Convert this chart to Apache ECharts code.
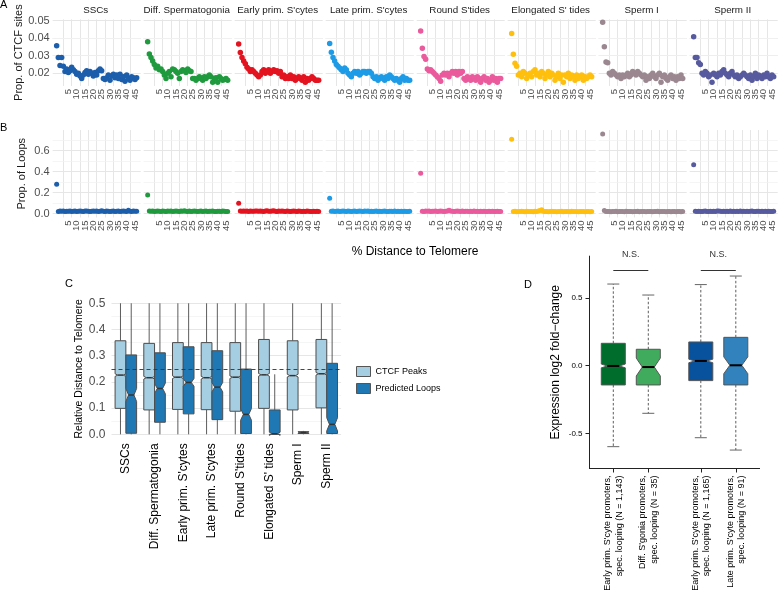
<!DOCTYPE html>
<html>
<head>
<meta charset="utf-8">
<script src="https://cdn.jsdelivr.net/npm/echarts@6/dist/echarts.min.js"></script>
<style>
  html, body { margin: 0; padding: 0; background: #fff; }
  #chart { width: 778px; height: 597px; }
</style>
</head>
<body>
<div id="chart"></div>
<script>
const FONT = "'Liberation Sans', Arial, Helvetica, sans-serif";

// ---- panels A & B: one facet per cell stage ----
const facetNames = ['SSCs', 'Diff. Spermatogonia', "Early prim. S'cytes", "Late prim. S'cytes",
  "Round S'tides", "Elongated S' tides", 'Sperm I', 'Sperm II'];
const facetColors = ['#1c5eab', '#1f9a3e', '#e3131f', '#1d9be6', '#ea5a9c', '#ffbf0d', '#9b8790', '#575a9e'];

const distBins = [1, 2, 3, 4, 5, 6, 7, 8, 9, 10, 11, 12, 13, 14, 15, 16, 17, 18, 19, 20,
  21, 22, 23, 24, 25, 26, 27, 28, 29, 30, 31, 32, 33, 34, 35, 36, 37, 38, 39, 40,
  41, 42, 43, 44, 45, 46, 47, 48, 49];
const distTicks = [5, 10, 15, 20, 25, 30, 35, 40, 45];
const distLabelSlots = [0, 5, 10, 15, 20, 25, 30, 35, 40, 45, 50]; // first/last are hidden spacers
const ctcfTicks = [0.02, 0.03, 0.04, 0.05];
const ctcfMinor = [0.015, 0.025, 0.035, 0.045];
const loopTicks = [0, 0.2, 0.4, 0.6];
const loopMinor = [0.1, 0.3, 0.5, 0.7];

const ctcfSSC = [0.0357, 0.0290, 0.0245, 0.0290, 0.0240, 0.0210, 0.0225, 0.0205, 0.0215, 0.0235,
  0.0220, 0.0210, 0.0195, 0.0200, 0.0185, 0.0170, 0.0190, 0.0205, 0.0215, 0.0195,
  0.0210, 0.0200, 0.0185, 0.0205, 0.0190, 0.0215, 0.0225, 0.0215, 0.0170, 0.0165,
  0.0175, 0.0190, 0.0160, 0.0185, 0.0195, 0.0175, 0.0190, 0.0170, 0.0195, 0.0165,
  0.0180, 0.0155, 0.0190, 0.0170, 0.0160, 0.0180, 0.0175, 0.0165, 0.0175];
const ctcfDiff = [0.0380, 0.0310, 0.0290, 0.0270, 0.0250, 0.0230, 0.0240, 0.0220, 0.0225, 0.0210,
  0.0190, 0.0170, 0.0200, 0.0210, 0.0180, 0.0225, 0.0220, 0.0210, 0.0200, 0.0170,
  0.0210, 0.0220, 0.0215, 0.0205, 0.0225, 0.0215, 0.0210, 0.0170, 0.0170, 0.0160,
  0.0170, 0.0180, 0.0170, 0.0160, 0.0180, 0.0170, 0.0180, 0.0190, 0.0180, 0.0150,
  0.0170, 0.0175, 0.0150, 0.0180, 0.0170, 0.0160, 0.0165, 0.0170, 0.0160];
const ctcfEarly = [0.0367, 0.0318, 0.0290, 0.0270, 0.0255, 0.0235, 0.0225, 0.0210, 0.0220, 0.0210,
  0.0200, 0.0190, 0.0180, 0.0190, 0.0210, 0.0220, 0.0200, 0.0210, 0.0220, 0.0200,
  0.0210, 0.0220, 0.0210, 0.0215, 0.0200, 0.0210, 0.0180, 0.0190, 0.0170, 0.0180,
  0.0170, 0.0190, 0.0170, 0.0180, 0.0160, 0.0170, 0.0180, 0.0170, 0.0160, 0.0180,
  0.0150, 0.0170, 0.0160, 0.0170, 0.0180, 0.0170, 0.0160, 0.0160, 0.0160];
const ctcfLate = [0.0370, 0.0320, 0.0290, 0.0270, 0.0250, 0.0240, 0.0230, 0.0220, 0.0210, 0.0230,
  0.0220, 0.0200, 0.0190, 0.0180, 0.0200, 0.0210, 0.0200, 0.0210, 0.0190, 0.0200,
  0.0210, 0.0210, 0.0200, 0.0210, 0.0210, 0.0200, 0.0180, 0.0170, 0.0180, 0.0160,
  0.0170, 0.0180, 0.0170, 0.0160, 0.0180, 0.0170, 0.0190, 0.0180, 0.0170, 0.0160,
  0.0170, 0.0160, 0.0150, 0.0170, 0.0180, 0.0160, 0.0170, 0.0160, 0.0160];
const ctcfRound = [0.0440, 0.0342, 0.0295, 0.0280, 0.0225, 0.0215, 0.0220, 0.0210, 0.0200, 0.0190,
  0.0180, 0.0170, 0.0155, 0.0190, 0.0200, 0.0190, 0.0200, 0.0180, 0.0200, 0.0210,
  0.0200, 0.0210, 0.0190, 0.0210, 0.0200, 0.0210, 0.0170, 0.0160, 0.0180, 0.0170,
  0.0160, 0.0180, 0.0170, 0.0160, 0.0180, 0.0170, 0.0150, 0.0170, 0.0180, 0.0160,
  0.0170, 0.0150, 0.0160, 0.0180, 0.0160, 0.0170, 0.0150, 0.0170, 0.0170];
const ctcfElong = [0.0427, 0.0308, 0.0257, 0.0240, 0.0190, 0.0200, 0.0180, 0.0210, 0.0200, 0.0170,
  0.0190, 0.0200, 0.0180, 0.0210, 0.0220, 0.0190, 0.0200, 0.0180, 0.0210, 0.0200,
  0.0170, 0.0190, 0.0210, 0.0180, 0.0200, 0.0190, 0.0160, 0.0180, 0.0200, 0.0170,
  0.0190, 0.0150, 0.0190, 0.0180, 0.0200, 0.0170, 0.0190, 0.0180, 0.0160, 0.0190,
  0.0170, 0.0180, 0.0190, 0.0160, 0.0180, 0.0170, 0.0180, 0.0190, 0.0180];
const ctcfSpermI = [0.0490, 0.0351, 0.0265, 0.0260, 0.0200, 0.0190, 0.0210, 0.0200, 0.0190, 0.0180,
  0.0190, 0.0170, 0.0190, 0.0180, 0.0190, 0.0200, 0.0180, 0.0190, 0.0210, 0.0200,
  0.0190, 0.0210, 0.0200, 0.0190, 0.0180, 0.0190, 0.0160, 0.0180, 0.0170, 0.0190,
  0.0200, 0.0180, 0.0170, 0.0190, 0.0200, 0.0150, 0.0180, 0.0190, 0.0170, 0.0160,
  0.0180, 0.0190, 0.0170, 0.0180, 0.0160, 0.0180, 0.0170, 0.0190, 0.0170];
const ctcfSpermII = [0.0408, 0.0290, 0.0290, 0.0260, 0.0250, 0.0200, 0.0190, 0.0210, 0.0200, 0.0180,
  0.0190, 0.0150, 0.0200, 0.0190, 0.0180, 0.0200, 0.0190, 0.0210, 0.0220, 0.0200,
  0.0190, 0.0180, 0.0200, 0.0210, 0.0190, 0.0180, 0.0190, 0.0170, 0.0180, 0.0190,
  0.0200, 0.0190, 0.0180, 0.0170, 0.0190, 0.0160, 0.0180, 0.0200, 0.0170, 0.0190,
  0.0180, 0.0170, 0.0190, 0.0180, 0.0200, 0.0180, 0.0170, 0.0190, 0.0180];

const loopSSC = [0.279, 0.021, 0.024, 0.022, 0.025, 0.020, 0.023, 0.022, 0.026, 0.021,
  0.023, 0.024, 0.020, 0.022, 0.025, 0.023, 0.021, 0.024, 0.026, 0.022,
  0.020, 0.023, 0.025, 0.022, 0.024, 0.021, 0.023, 0.027, 0.022, 0.020,
  0.024, 0.022, 0.021, 0.023, 0.025, 0.020, 0.022, 0.024, 0.021, 0.023,
  0.026, 0.022, 0.020, 0.031, 0.023, 0.021, 0.024, 0.022, 0.023];
const loopDiff = [0.177, 0.024, 0.022, 0.026, 0.021, 0.023, 0.025, 0.022, 0.020, 0.024,
  0.023, 0.021, 0.025, 0.022, 0.024, 0.020, 0.023, 0.026, 0.022, 0.021,
  0.024, 0.023, 0.027, 0.022, 0.020, 0.024, 0.021, 0.023, 0.025, 0.022,
  0.020, 0.023, 0.024, 0.021, 0.022, 0.025, 0.020, 0.023, 0.022, 0.024,
  0.021, 0.019, 0.023, 0.022, 0.020, 0.024, 0.022, 0.021, 0.020];
const loopEarly = [0.098, 0.025, 0.023, 0.026, 0.022, 0.024, 0.021, 0.025, 0.023, 0.022,
  0.026, 0.024, 0.022, 0.025, 0.023, 0.021, 0.024, 0.027, 0.023, 0.022,
  0.025, 0.028, 0.023, 0.021, 0.024, 0.022, 0.025, 0.023, 0.021, 0.024,
  0.022, 0.020, 0.023, 0.025, 0.022, 0.021, 0.024, 0.022, 0.020, 0.023,
  0.021, 0.024, 0.022, 0.020, 0.021, 0.023, 0.019, 0.022, 0.021];
const loopLate = [0.146, 0.022, 0.025, 0.021, 0.023, 0.024, 0.020, 0.022, 0.025, 0.023,
  0.021, 0.024, 0.022, 0.020, 0.023, 0.025, 0.021, 0.022, 0.024, 0.023,
  0.021, 0.025, 0.022, 0.024, 0.020, 0.023, 0.021, 0.022, 0.024, 0.020,
  0.023, 0.021, 0.022, 0.024, 0.021, 0.020, 0.023, 0.022, 0.021, 0.024,
  0.020, 0.022, 0.021, 0.023, 0.020, 0.022, 0.021, 0.020, 0.022];
const loopRound = [0.384, 0.023, 0.021, 0.025, 0.022, 0.024, 0.020, 0.023, 0.022, 0.025,
  0.021, 0.023, 0.024, 0.022, 0.020, 0.023, 0.026, 0.031, 0.024, 0.022,
  0.021, 0.023, 0.025, 0.022, 0.020, 0.024, 0.021, 0.022, 0.023, 0.020,
  0.022, 0.021, 0.024, 0.020, 0.022, 0.021, 0.023, 0.020, 0.022, 0.019,
  0.021, 0.023, 0.020, 0.022, 0.021, 0.020, 0.022, 0.019, 0.021];
const loopElong = [0.708, 0.020, 0.022, 0.018, 0.021, 0.019, 0.023, 0.020, 0.018, 0.022,
  0.019, 0.021, 0.020, 0.018, 0.022, 0.021, 0.024, 0.030, 0.036, 0.022,
  0.019, 0.021, 0.018, 0.020, 0.022, 0.019, 0.021, 0.018, 0.020, 0.019,
  0.022, 0.018, 0.020, 0.021, 0.019, 0.018, 0.022, 0.020, 0.019, 0.021,
  0.018, 0.020, 0.019, 0.021, 0.018, 0.020, 0.019, 0.018, 0.020];
const loopSpermI = [0.758, 0.030, 0.020, 0.019, 0.021, 0.018, 0.020, 0.019, 0.022, 0.018,
  0.020, 0.021, 0.019, 0.018, 0.022, 0.020, 0.019, 0.021, 0.018, 0.020,
  0.019, 0.022, 0.018, 0.020, 0.021, 0.019, 0.018, 0.020, 0.019, 0.021,
  0.018, 0.020, 0.019, 0.022, 0.018, 0.020, 0.019, 0.021, 0.018, 0.019,
  0.020, 0.018, 0.021, 0.019, 0.018, 0.020, 0.019, 0.018, 0.020];
const loopSpermII = [0.466, 0.022, 0.020, 0.023, 0.021, 0.019, 0.022, 0.024, 0.020, 0.021,
  0.023, 0.020, 0.022, 0.021, 0.024, 0.026, 0.022, 0.020, 0.023, 0.021,
  0.022, 0.020, 0.024, 0.021, 0.023, 0.020, 0.022, 0.021, 0.025, 0.020,
  0.022, 0.021, 0.023, 0.020, 0.022, 0.024, 0.021, 0.020, 0.022, 0.023,
  0.020, 0.022, 0.021, 0.023, 0.020, 0.022, 0.021, 0.020, 0.022];

const ctcfSeries = [ctcfSSC, ctcfDiff, ctcfEarly, ctcfLate, ctcfRound, ctcfElong, ctcfSpermI, ctcfSpermII];
const loopSeries = [loopSSC, loopDiff, loopEarly, loopLate, loopRound, loopElong, loopSpermI, loopSpermII];

// ---- panel C: [low whisker, Q1, median, Q3, high whisker] ----
const cCategories = facetNames;
const ctcfBox = [
  [0, 0.099, 0.226, 0.357, 0.5], [0, 0.093, 0.216, 0.347, 0.5], [0, 0.095, 0.218, 0.350, 0.5],
  [0, 0.094, 0.216, 0.350, 0.5], [0, 0.088, 0.218, 0.350, 0.5], [0, 0.099, 0.227, 0.362, 0.5],
  [0, 0.093, 0.224, 0.357, 0.5], [0, 0.101, 0.231, 0.362, 0.5]];
const ctcfNotch = [0.005, 0.005, 0.005, 0.005, 0.005, 0.005, 0.005, 0.005];
const loopBox = [
  [0, 0.004, 0.150, 0.303, 0.5], [0, 0.046, 0.175, 0.311, 0.5], [0, 0.078, 0.198, 0.334, 0.5],
  [0, 0.056, 0.180, 0.319, 0.5], [0, 0.003, 0.076, 0.249, 0.5], [0, 0.0, 0.002, 0.093, 0.229],
  [0, 0.003, 0.007, 0.010, 0.013], [0, 0.003, 0.038, 0.271, 0.5]];
const loopNotch = [0.025, 0.02, 0.015, 0.018, 0.022, 0.006, 0.002, 0.025];
const refLine = 0.249;

// ---- panel D ----
const dLabels = ["Early prim. S'cyte promoters,\nspec. looping (N = 1,143)",
  "Diff. S'gonia promoters,\nspec. looping (N = 35)",
  "Early prim. S'cyte promoters,\nspec. looping (N = 1,165)",
  "Late prim. S'cyte promoters,\nspec. looping (N = 91)"];
const dPositions = [1, 2, 3.5, 4.5];
const dStats = [[-0.597, -0.142, -0.002, 0.165, 0.602], [-0.351, -0.142, -0.010, 0.121, 0.521],
  [-0.531, -0.110, 0.035, 0.175, 0.598], [-0.622, -0.142, 0.003, 0.209, 0.661]];
const dNotch = [0.014, 0.066, 0.013, 0.062];
const dColors = ['#006d2c', '#41ab5d', '#08519c', '#3182bd'];
const dTicks = [-0.5, 0, 0.5];
const nsPairs = [[1, 2], [3.5, 4.5]];
const nsY = 0.706;

// ---- layout ----
const FACET_X0 = 55, FACET_STEP = 91, PX_PER_BIN = 1.667;
const X_MIN = -1.4, X_MAX = 51.4;
const FACET_W = (X_MAX - X_MIN) * PX_PER_BIN;
const facetLeft = i => FACET_X0 + FACET_STEP * i + X_MIN * PX_PER_BIN;

const grids = [], xAxes = [], yAxes = [], series = [];
const MAJOR = { color: '#e6e6e6', width: 1, type: 'solid' };
const MINOR = { color: '#f1f1f1', width: 0.7, type: 'solid' };

function addFacetRow(values, top, height, yMin, yMax, yTicks, yMinor, yDigits, yName, symSize) {
  for (let i = 0; i < 8; i++) {
    const g = grids.length;
    grids.push({ left: facetLeft(i), top: top, width: FACET_W, height: height });
    xAxes.push({
      gridIndex: g, type: 'value', min: X_MIN, max: X_MAX,
      axisLine: { show: false }, axisTick: { show: false }, splitLine: { show: false },
      axisLabel: {
        customValues: distLabelSlots,
        formatter: v => (distTicks.indexOf(v) >= 0 ? String(v) : ' '),
        rotate: 90, fontSize: 9.5, lineHeight: 10, verticalAlign: 'top',
        color: '#4d4d4d', margin: 3, showMinLabel: false, showMaxLabel: false
      }
    });
    yAxes.push({
      gridIndex: g, type: 'value', min: yMin, max: yMax,
      axisLine: { show: false }, axisTick: { show: false }, splitLine: { show: false },
      axisLabel: i === 0
        ? { customValues: yTicks, formatter: v => v.toFixed(yDigits), fontSize: 11, color: '#4d4d4d', margin: 3,
            showMinLabel: true, showMaxLabel: true }
        : { show: false },
      name: i === 0 ? yName : '', nameLocation: 'middle', nameGap: 25,
      nameTextStyle: { fontSize: 11, color: '#1a1a1a' }
    });
    const pts = distBins.map((b, k) => [b, values[i][k]]);
    const gridMarks = []
      .concat(distTicks.map(v => ({ xAxis: v, lineStyle: MAJOR })))
      .concat(yTicks.map(v => ({ yAxis: v, lineStyle: MAJOR })))
      .concat(yMinor.map(v => ({ yAxis: v, lineStyle: MINOR })));
    series.push({
      type: 'line', xAxisIndex: g, yAxisIndex: g, data: pts, showSymbol: false,
      lineStyle: { opacity: 0 }, silent: true, z: 1,
      markLine: { silent: true, symbol: 'none', label: { show: false }, data: gridMarks }
    });
    series.push({
      type: 'scatter', xAxisIndex: g, yAxisIndex: g, data: pts, symbolSize: symSize,
      itemStyle: { color: facetColors[i], opacity: 1 }, zlevel: 1, z: 3
    });
  }
}

addFacetRow(ctcfSeries, 19.3, 66.7, 0.0128, 0.0507, ctcfTicks, ctcfMinor, 2, 'Prop. of CTCF sites', 5.5);
addFacetRow(loopSeries, 130, 87.5, -0.037, 0.796, loopTicks, loopMinor, 1, 'Prop. of Loops', 5);

// box-with-notch renderer shared by C and D
function makeBoxRenderer(cfg) {
  return function (params, api) {
    const xv = api.value(0);
    const unit = api.size([1, 0])[0];
    const cx = api.coord([xv, 0])[0] + cfg.offset * unit;
    const hw = cfg.halfWidth * unit;
    const nw = hw * 0.5;
    const py = v => api.coord([xv, v])[1];
    const medV = api.value(3), notch = api.value(6);
    const low = py(api.value(1)), q1 = py(api.value(2)), med = py(medV);
    const q3 = py(api.value(4)), high = py(api.value(5));
    const nUp = py(medV + notch), nDn = py(medV - notch);
    const wStyle = { stroke: cfg.whisker, lineWidth: cfg.whiskerWidth, lineDash: cfg.dash };
    const kids = [
      { type: 'line', shape: { x1: cx, y1: q3, x2: cx, y2: high }, style: wStyle },
      { type: 'line', shape: { x1: cx, y1: q1, x2: cx, y2: low }, style: wStyle }
    ];
    if (cfg.caps) {
      const cs = { stroke: cfg.capColor, lineWidth: 1 };
      kids.push({ type: 'line', shape: { x1: cx - nw, y1: high, x2: cx + nw, y2: high }, style: cs });
      kids.push({ type: 'line', shape: { x1: cx - nw, y1: low, x2: cx + nw, y2: low }, style: cs });
    }
    kids.push({
      type: 'polygon',
      shape: { points: [[cx - hw, q3], [cx + hw, q3], [cx + hw, nUp], [cx + nw, med], [cx + hw, nDn],
        [cx + hw, q1], [cx - hw, q1], [cx - hw, nDn], [cx - nw, med], [cx - hw, nUp]] },
      style: { fill: api.visual('color'), stroke: cfg.border, lineWidth: cfg.borderWidth }
    });
    kids.push({ type: 'line', shape: { x1: cx - nw, y1: med, x2: cx + nw, y2: med },
      style: { stroke: cfg.median, lineWidth: cfg.medianWidth } });
    return { type: 'group', children: kids };
  };
}

// ---- panel C ----
const gC = grids.length;
grids.push({ left: 111.5, top: 303.3, width: 229.6, height: 131 });
xAxes.push({
  gridIndex: gC, type: 'category', data: cCategories,
  axisLine: { show: false }, axisTick: { show: false }, splitLine: { show: false },
  axisLabel: { interval: 0, rotate: 90, fontSize: 12, color: '#000', margin: 9 }
});
yAxes.push({
  gridIndex: gC, type: 'value', min: 0, max: 0.5, interval: 0.1,
  axisLine: { show: false }, axisTick: { show: false },
  axisLabel: { formatter: v => v.toFixed(1), fontSize: 12, color: '#4d4d4d', margin: 6 },
  splitLine: { lineStyle: { color: '#e6e6e6', width: 1 } },
  minorTick: { show: false, splitNumber: 2 },
  minorSplitLine: { show: true, lineStyle: { color: '#f1f1f1', width: 0.7 } },
  name: 'Relative Distance to Telomere', nameLocation: 'middle', nameGap: 25,
  nameTextStyle: { fontSize: 10.5, color: '#000' }
});
const cCfg = { halfWidth: 0.1875, whisker: '#333', whiskerWidth: 0.8, dash: null, caps: false,
  border: '#4d4d4d', borderWidth: 1, median: '#333', medianWidth: 1.5 };
series.push({
  name: 'CTCF Peaks', type: 'custom', xAxisIndex: gC, yAxisIndex: gC, z: 3,
  itemStyle: { color: '#a6cee3' },
  renderItem: makeBoxRenderer(Object.assign({}, cCfg, { offset: -0.1875 })),
  encode: { x: 0, y: [1, 2, 3, 4, 5] },
  data: ctcfBox.map((s, i) => [i].concat(s, [ctcfNotch[i]]))
});
series.push({
  name: 'Predicted Loops', type: 'custom', xAxisIndex: gC, yAxisIndex: gC, z: 3,
  itemStyle: { color: '#1f78b4' },
  renderItem: makeBoxRenderer(Object.assign({}, cCfg, { offset: 0.1875 })),
  encode: { x: 0, y: [1, 2, 3, 4, 5] },
  data: loopBox.map((s, i) => [i].concat(s, [loopNotch[i]]))
});
series.push({
  type: 'line', xAxisIndex: gC, yAxisIndex: gC, data: [[0, refLine]], showSymbol: false,
  lineStyle: { opacity: 0 }, silent: true, z: 10, zlevel: 1,
  markLine: { silent: true, symbol: 'none', label: { show: false },
    lineStyle: { type: [4, 3], color: '#333', width: 0.9 }, data: [{ yAxis: refLine }] }
});

// ---- panel D ----
const gD = grids.length;
grids.push({ left: 589.5, top: 256.1, width: 170.1, height: 212.4 });
xAxes.push({
  gridIndex: gD, type: 'value', min: 0.32, max: 5.18,
  axisLine: { show: true, onZero: false, lineStyle: { color: '#222', width: 1 } },
  axisTick: { show: true, customValues: dPositions, length: 4, lineStyle: { color: '#222' } },
  splitLine: { show: false },
  axisLabel: { customValues: dPositions, formatter: v => dLabels[dPositions.indexOf(v)],
    rotate: 90, fontSize: 9, lineHeight: 11.5, color: '#000', margin: 7,
    showMinLabel: true, showMaxLabel: true }
});
yAxes.push({
  gridIndex: gD, type: 'value', min: -0.758, max: 0.808,
  axisLine: { show: true, onZero: false, lineStyle: { color: '#222', width: 1 } },
  axisTick: { show: true, customValues: dTicks, length: 4, lineStyle: { color: '#222' } },
  splitLine: { show: false },
  axisLabel: { customValues: dTicks, formatter: v => v.toFixed(1), fontSize: 8, color: '#000', margin: 7,
    showMinLabel: true, showMaxLabel: true },
  name: 'Expression log2 fold\u2212change', nameLocation: 'middle', nameGap: 28,
  nameTextStyle: { fontSize: 12, color: '#000' }
});
series.push({
  type: 'custom', xAxisIndex: gD, yAxisIndex: gD, z: 3,
  renderItem: makeBoxRenderer({ offset: 0, halfWidth: 0.343, whisker: '#333', whiskerWidth: 0.8,
    dash: [2.5, 2], caps: true, capColor: '#666', border: '#555', borderWidth: 1,
    median: '#000', medianWidth: 2 }),
  encode: { x: 0, y: [1, 2, 3, 4, 5] },
  data: dStats.map((s, i) => ({ value: [dPositions[i]].concat(s, [dNotch[i]]), itemStyle: { color: dColors[i] } })),
  markLine: {
    silent: true, symbol: 'none',
    lineStyle: { type: 'solid', color: '#333', width: 1 },
    label: { show: true, position: 'middle', formatter: 'N.S.', fontSize: 9, color: '#333', distance: 11 },
    data: nsPairs.map(p => [{ coord: [p[0], nsY] }, { coord: [p[1], nsY] }])
  }
});

// ---- free text ----
const txt = (text, x, y, size, align, extra) => ({
  type: 'text', x: x, y: y, silent: true,
  style: Object.assign({ text: text, fontSize: size, fill: '#000', fontFamily: FONT,
    align: align, textAlign: align, verticalAlign: 'middle', textVerticalAlign: 'middle' }, extra || {})
});
const graphic = [
  txt('A', 0, 5, 11, 'left'),
  txt('B', 0, 128, 11, 'left'),
  txt('C', 65, 284, 11, 'left'),
  txt('D', 524, 285, 11, 'left'),
  txt('% Distance to Telomere', 415, 252, 12, 'center')
];
facetNames.forEach((n, i) => {
  graphic.push(txt(n, FACET_X0 + FACET_STEP * i + 25 * PX_PER_BIN - 1, 10, 9.8, 'center', { fill: '#1a1a1a' }));
});

const chart = echarts.init(document.getElementById('chart'), null, { renderer: 'canvas' });
chart.setOption({
  animation: false,
  textStyle: { fontFamily: FONT },
  grid: grids,
  xAxis: xAxes,
  yAxis: yAxes,
  series: series,
  graphic: graphic,
  legend: {
    data: ['CTCF Peaks', 'Predicted Loops'], orient: 'vertical', left: 351, top: 361,
    icon: 'rect', itemWidth: 14, itemHeight: 10, itemGap: 6, selectedMode: false,
    itemStyle: { borderColor: '#555', borderWidth: 1 },
    textStyle: { fontSize: 9, color: '#000', fontFamily: FONT }
  }
});
</script>
</body>
</html>
